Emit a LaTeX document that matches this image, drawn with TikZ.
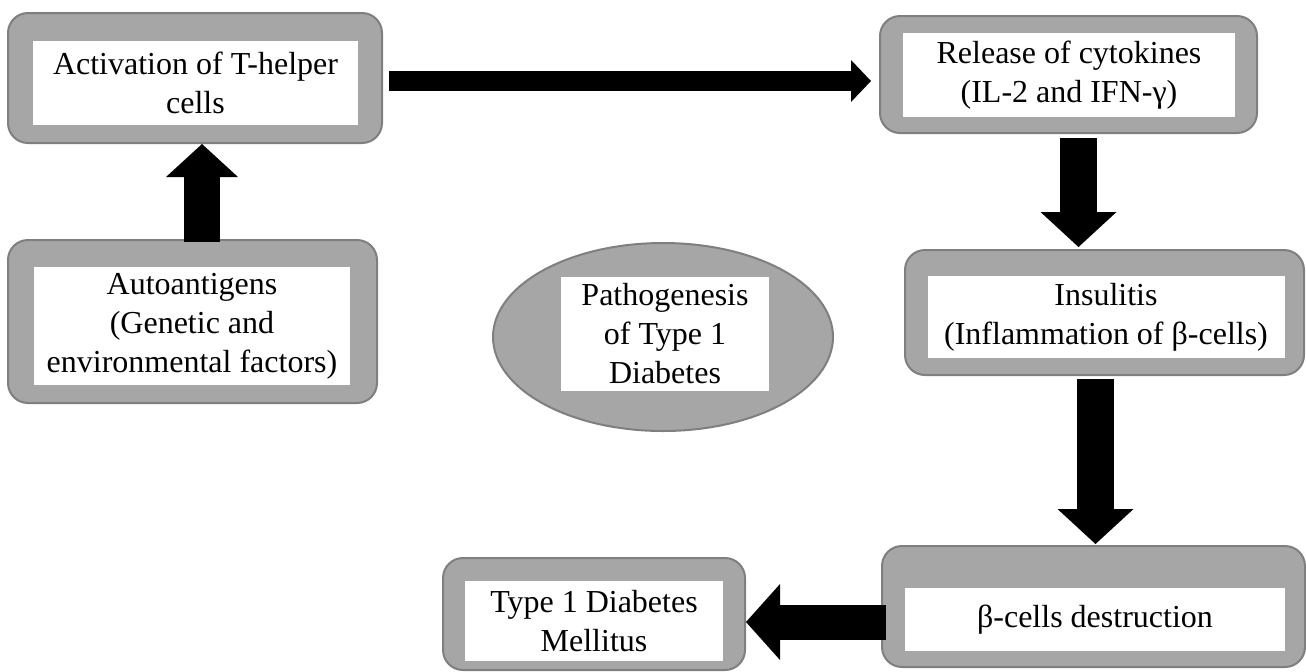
\documentclass[tikz,border=0pt]{standalone}
\usepackage{fontspec}
\setmainfont{Liberation Serif}
\usetikzlibrary{arrows.meta, shapes.geometric}
\definecolor{boxgray}{HTML}{A6A6A6}
\definecolor{boxedge}{HTML}{7F7F7F}

\begin{document}
\begin{tikzpicture}[x=0.5pt,y=-0.5pt]
  \tikzset{
    frame/.style={draw=boxedge,fill=boxgray,line width=1pt,rounded corners=10pt,inner sep=0pt},
    label/.style={fill=white,inner sep=0pt,align=center,font=\fontsize{16}{19.5}\selectfont},
    fat/.style={line width=18.5pt,-{Triangle[width=38pt,length=17.5pt,line width=0pt]}},
    slim/.style={line width=10pt,-{Triangle[width=21pt,length=10pt,line width=0pt]}}
  }
  \useasboundingbox (0,0) rectangle (1306,671);

  % grey frames
  \node[frame,minimum width=187pt,minimum height=65pt]     (act)   at (195,78)      {};
  \node[frame,minimum width=188.5pt,minimum height=58.5pt] (cyto)  at (1068.5,74.5) {};
  \node[frame,minimum width=184.5pt,minimum height=81.5pt] (auto)  at (192.5,321.5) {};
  \node[frame,minimum width=199.5pt,minimum height=62.5pt] (insul) at (1104.5,312.5) {};
  \node[frame,minimum width=211.5pt,minimum height=60.5pt] (destr) at (1093.5,606.5) {};
  \node[frame,minimum width=151pt,minimum height=56pt]     (t1dm)  at (594,614)     {};
  \node[ellipse,draw=boxedge,fill=boxgray,line width=1pt,inner sep=0pt,
        minimum width=170pt,minimum height=94pt]           (patho) at (663,337)     {};

  % white text fields
  \node[label,minimum width=162.5pt,minimum height=42pt] (act_t)   at (195.5,83)  {Activation of T-helper\\cells};
  \node[label,minimum width=166pt,minimum height=42pt]   (cyto_t)  at (1069,75)   {Release of cytokines\\(IL-2 and IFN-γ)};
  \node[label,minimum width=158pt,minimum height=59pt]   (auto_t)  at (192,326)   {Autoantigens\\(Genetic and\\environmental factors)};
  \node[label,minimum width=178.5pt,minimum height=41pt] (insul_t) at (1106,317)  {Insulitis\\(Inflammation of β-cells)};
  \node[label,minimum width=190pt,minimum height=31.5pt] (destr_t) at (1095,619.5) {β-cells destruction};
  \node[label,minimum width=129pt,minimum height=40pt]   (t1dm_t)  at (594,621)   {Type 1 Diabetes\\Mellitus};
  \node[label,minimum width=104pt,minimum height=57pt]   (patho_t) at (665,334)   {Pathogenesis\\of Type 1\\Diabetes};

  % block arrows
  \draw[fat,line width=18pt,-{Triangle[width=36pt,length=16.5pt,line width=0pt]},shorten <=-1.5pt]
    ([xshift=4.75pt]auto.north) -- ([xshift=4.75pt]auto.north |- act.south);
  \draw[slim,shorten <=3pt,shorten >=4pt]
    ([yshift=-1.5pt]act.east) -- ([yshift=-1.5pt]act.east -| cyto.west);
  \draw[fat,shorten <=2pt,shorten >=1pt]
    ([xshift=5pt]cyto.south) -- ([xshift=5pt]cyto.south |- insul.north);
  \draw[fat,shorten <=1.5pt,shorten >=0.5pt]
    ([xshift=-4.5pt]insul.south) -- ([xshift=-4.5pt]insul.south |- destr.north);
  \draw[fat,line width=17.5pt,-{Triangle[width=38pt,length=17pt,line width=0pt]},shorten <=-2.5pt]
    ([yshift=-7.75pt]destr.west) -- ([yshift=-7.75pt]destr.west -| t1dm.east);
\end{tikzpicture}
\end{document}
